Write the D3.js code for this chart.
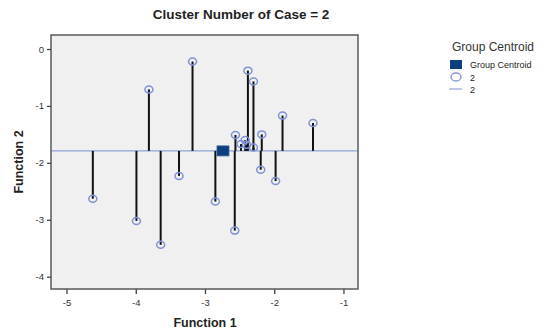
<!DOCTYPE html>
<html><head><meta charset="utf-8">
<script src="https://cdn.jsdelivr.net/npm/d3@7"></script>
<style>body{margin:0;background:#fff;font-family:"Liberation Sans",Arial,sans-serif;}</style>
</head><body><svg id="c" width="554" height="335"></svg>
<script>
const function1 = [-4.62,-3.99,-3.81,-3.64,-3.375,-3.18,-2.85,-2.57,-2.56,-2.48,-2.42,-2.40,-2.38,-2.30,-2.30,-2.18,-2.195,-1.98,-1.88,-1.44];
const function2 = [-2.63,-3.02,-0.71,-3.44,-2.23,-0.22,-2.68,-3.19,-1.51,-1.67,-1.60,-1.68,-0.38,-0.57,-1.73,-1.50,-2.12,-2.32,-1.17,-1.30];
const centroid = {f1:-2.74, f2:-1.79};
const xTicks = [-5,-4,-3,-2,-1];
const yTicks = [0,-1,-2,-3,-4];
const title = "Cluster Number of Case = 2";
const legendTitle = "Group Centroid";
const legendItems = ["Group Centroid","2","2"];

const svg = d3.select("#c");
const L=51,R=358,T=35,B=289;
const x = d3.scaleLinear().domain([-5.224,-0.79]).range([L,R]);
const y = d3.scaleLinear().domain([0.246,-4.216]).range([T,B]);

svg.append("rect").attr("x",L).attr("y",T).attr("width",R-L).attr("height",B-T).attr("fill","#f0f0f0");

svg.append("line").attr("x1",L).attr("x2",R).attr("y1",y(centroid.f2)).attr("y2",y(centroid.f2))
  .attr("stroke","#8fa3d6").attr("stroke-width",1.2);

const pts = function1.map((v,i)=>({f1:v,f2:function2[i]}));
svg.append("g").selectAll("line").data(pts).join("line")
  .attr("x1",d=>x(d.f1)).attr("x2",d=>x(d.f1))
  .attr("y1",y(centroid.f2)).attr("y2",d=>y(d.f2))
  .attr("stroke","#111").attr("stroke-width",2);
svg.append("g").selectAll("ellipse").data(pts).join("ellipse")
  .attr("cx",d=>x(d.f1)).attr("cy",d=>y(d.f2)).attr("rx",4).attr("ry",3.5)
  .attr("fill","none").attr("stroke","#7f92d6").attr("stroke-width",1.5);

svg.append("rect").attr("x",x(centroid.f1)-6).attr("y",y(centroid.f2)-5).attr("width",12).attr("height",10)
  .attr("fill","#0d3f7e").attr("stroke","#3a5d96").attr("stroke-width",0.8);

svg.append("rect").attr("x",L).attr("y",T).attr("width",R-L).attr("height",B-T)
  .attr("fill","none").attr("stroke","#5a5a5a").attr("stroke-width",1.5);

const fmt = d=>String(d);
const ax = svg.append("g").attr("transform",`translate(0,${B})`)
  .call(d3.axisBottom(x).tickValues(xTicks).tickFormat(fmt).tickSize(5).tickSizeOuter(0));
const ay = svg.append("g").attr("transform",`translate(${L},0)`)
  .call(d3.axisLeft(y).tickValues(yTicks).tickFormat(fmt).tickSize(4).tickSizeOuter(0));
[ax,ay].forEach(a=>{a.select(".domain").remove();
  a.selectAll("line").attr("stroke","#444").attr("stroke-width",1.3);
  a.selectAll("text").attr("fill","#333").attr("font-size",9.5).attr("font-family","Liberation Sans, Arial, sans-serif");});
ax.selectAll("text").attr("dy","0.9em");

svg.append("text").attr("x",241).attr("y",19).attr("text-anchor","middle").attr("font-size",13.5).attr("font-weight","bold").attr("fill","#222").text(title);
svg.append("text").attr("x",205).attr("y",327).attr("text-anchor","middle").attr("font-size",12.5).attr("font-weight","bold").attr("fill","#222").text("Function 1");
svg.append("text").attr("transform","translate(23,162) rotate(-90)").attr("text-anchor","middle").attr("font-size",12.5).attr("font-weight","bold").attr("fill","#222").text("Function 2");

const lg = svg.append("g");
lg.append("text").attr("x",452).attr("y",51).attr("font-size",12).attr("fill","#333").text(legendTitle);
lg.append("rect").attr("x",450).attr("y",60).attr("width",12).attr("height",9).attr("fill","#0d3f7e");
lg.append("text").attr("x",470).attr("y",68).attr("font-size",9).attr("fill","#222").text(legendItems[0]);
lg.append("ellipse").attr("cx",456).attr("cy",77).attr("rx",5).attr("ry",4).attr("fill","none").attr("stroke","#7f92d6").attr("stroke-width",1.3);
lg.append("text").attr("x",470).attr("y",81).attr("font-size",9).attr("fill","#222").text(legendItems[1]);
lg.append("line").attr("x1",449).attr("x2",462).attr("y1",89).attr("y2",89).attr("stroke","#8fa3d6").attr("stroke-width",1.2);
lg.append("text").attr("x",470).attr("y",93).attr("font-size",9).attr("fill","#222").text(legendItems[2]);
</script></body></html>
